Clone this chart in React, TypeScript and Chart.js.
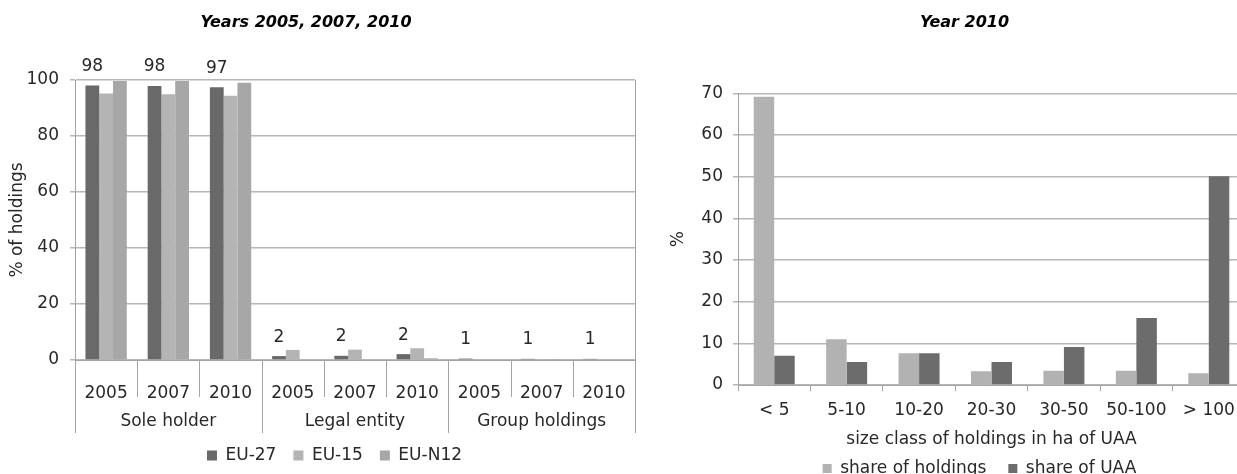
import React, { useEffect, useRef } from 'react';
import { Chart, registerables } from 'chart.js';

Chart.register(...registerables);

const FONT = '"DejaVu Sans", Verdana, sans-serif';
const TEXT = '#282828';
const GRID = '#b6b6b6';
const AXIS = '#a4a4a4';

// ---------- Left panel data ----------
const yearLabels = ['2005', '2007', '2010', '2005', '2007', '2010', '2005', '2007', '2010'];
const groupLabels = ['Sole holder', 'Legal entity', 'Group holdings'];
const eu27 = [98, 97.9, 97.4, 1.4, 1.5, 2.1, 0.5, 0.4, 0.4];
const eu15 = [95.2, 94.9, 94.4, 3.6, 3.7, 4.2, 0.2, 0.2, 0.2];
const euN12 = [99.6, 99.6, 99.0, 0.3, 0.3, 0.6, 0.3, 0.2, 0.3];
const eu27Labels = ['98', '98', '97', '2', '2', '2', '1', '1', '1'];
const leftTicks = [0, 20, 40, 60, 80, 100];

// ---------- Right panel data ----------
const sizeClasses = ['< 5', '5-10', '10-20', '20-30', '30-50', '50-100', '> 100'];
const shareHoldings = [69.2, 11.0, 7.6, 3.3, 3.4, 3.4, 2.8];
const shareUAA = [7.0, 5.5, 7.6, 5.5, 9.1, 16.1, 50.1];
const rightTicks = [0, 10, 20, 30, 40, 50, 60, 70];

const shiftBlocks = {
  id: 'shiftBlocks',
  afterLayout(chart: any, _args: any, opts: any) {
    if (chart.legend && opts.legendDx) {
      chart.legend.left += opts.legendDx;
      chart.legend.right += opts.legendDx;
    }
    if (chart.titleBlock && opts.titleDx) {
      chart.titleBlock.left += opts.titleDx;
      chart.titleBlock.right += opts.titleDx;
    }
  },
};

const leftDecor = {
  id: 'leftDecor',
  afterDraw(chart: any) {
    const { ctx, chartArea } = chart;
    const xs = chart.scales.x;
    const n = yearLabels.length;
    const w = xs.width / n;
    ctx.save();
    ctx.strokeStyle = AXIS;
    ctx.lineWidth = 1;
    ctx.beginPath();
    const rx = Math.round(xs.right) + 0.5;
    ctx.moveTo(rx, chartArea.top);
    ctx.lineTo(rx, chartArea.bottom);
    for (let i = 0; i <= n; i++) {
      const x = Math.round(xs.left + i * w) + 0.5;
      ctx.moveTo(x, chartArea.bottom);
      ctx.lineTo(x, chartArea.bottom + (i % 3 === 0 ? 73 : 37));
    }
    ctx.stroke();
    ctx.fillStyle = TEXT;
    ctx.font = `17px ${FONT}`;
    ctx.textAlign = 'center';
    ctx.textBaseline = 'middle';
    groupLabels.forEach((g, k) => {
      ctx.fillText(g, xs.left + (k * 3 + 1.5) * w, chartArea.bottom + 62);
    });
    ctx.restore();
  },
};

const eu27LabelPlugin = {
  id: 'eu27LabelPlugin',
  afterDatasetsDraw(chart: any) {
    const { ctx } = chart;
    const meta = chart.getDatasetMeta(0);
    ctx.save();
    ctx.fillStyle = TEXT;
    ctx.font = `17px ${FONT}`;
    ctx.textAlign = 'center';
    ctx.textBaseline = 'middle';
    meta.data.forEach((el: any, i: number) => {
      ctx.fillText(eu27Labels[i], el.x, el.y - 19);
    });
    ctx.restore();
  },
};

const tickFont = { family: FONT, size: 17 };
const titleFont = { family: FONT, size: 16, weight: 'bold' as const, style: 'italic' as const };

export default function App() {
  const leftRef = useRef<HTMLCanvasElement>(null);
  const rightRef = useRef<HTMLCanvasElement>(null);

  useEffect(() => {
    const left = new Chart(leftRef.current as HTMLCanvasElement, {
      type: 'bar',
      data: {
        labels: yearLabels,
        datasets: [
          { label: 'EU-27', data: eu27, backgroundColor: '#696969' },
          { label: 'EU-15', data: eu15, backgroundColor: '#b4b4b4' },
          { label: 'EU-N12', data: euN12, backgroundColor: '#a7a7a7' },
        ],
      },
      options: {
        responsive: false,
        animation: false,
        layout: { padding: { left: 0, right: 15, top: 0, bottom: 0 } },
        datasets: { bar: { categoryPercentage: 0.664, barPercentage: 1 } },
        plugins: {
          title: {
            display: true,
            text: 'Years 2005, 2007, 2010',
            color: '#000',
            font: titleFont,
            padding: { top: 13.4, bottom: 47.4 },
          },
          legend: {
            position: 'bottom',
            labels: { boxWidth: 10, boxHeight: 10, padding: 17, color: TEXT, font: tickFont },
          },
          tooltip: { enabled: false },
          shiftBlocks: { titleDx: -11.5, legendDx: 17 },
        } as any,
        scales: {
          x: {
            grid: { display: false },
            border: { display: true, color: AXIS },
            ticks: { color: TEXT, font: tickFont, padding: 15, maxRotation: 0, autoSkip: false },
            afterFit: (s: any) => { s.height = 70; },
          },
          y: {
            min: 0,
            max: 100,
            afterBuildTicks: (s: any) => { s.ticks = leftTicks.map((v) => ({ value: v })); },
            ticks: { color: TEXT, font: tickFont, padding: 11 },
            grid: { color: GRID, tickLength: 5, lineWidth: 1.5 },
            border: { color: AXIS },
            title: {
              display: true,
              text: '% of holdings',
              color: TEXT,
              font: tickFont,
              padding: { top: 7.8, bottom: 0 },
            },
            afterFit: (s: any) => { s.width = 75; },
          },
        },
      },
      plugins: [leftDecor, eu27LabelPlugin, shiftBlocks],
    });

    const right = new Chart(rightRef.current as HTMLCanvasElement, {
      type: 'bar',
      data: {
        labels: sizeClasses,
        datasets: [
          { label: 'share of holdings', data: shareHoldings, backgroundColor: '#b2b2b2' },
          { label: 'share of UAA', data: shareUAA, backgroundColor: '#6c6c6c' },
        ],
      },
      options: {
        responsive: false,
        animation: false,
        layout: { padding: 0 },
        datasets: { bar: { categoryPercentage: 0.566, barPercentage: 1 } },
        plugins: {
          title: {
            display: true,
            text: 'Year 2010',
            color: '#000',
            font: titleFont,
            padding: { top: 13.4, bottom: 60.7 },
          },
          legend: {
            position: 'bottom',
            labels: { boxWidth: 9, boxHeight: 9, padding: 22, color: TEXT, font: tickFont },
          },
          tooltip: { enabled: false },
          shiftBlocks: { titleDx: 17, legendDx: 32 },
        } as any,
        scales: {
          x: {
            grid: { drawOnChartArea: false, drawTicks: true, tickLength: 6, color: AXIS, offset: true },
            border: { display: true, color: AXIS },
            ticks: { color: TEXT, font: tickFont, padding: 9, maxRotation: 0, autoSkip: false },
            title: {
              display: true,
              text: 'size class of holdings in ha of UAA',
              color: TEXT,
              font: tickFont,
              padding: { top: 0, bottom: -11.5 },
            },
            afterFit: (s: any) => { s.height = 53; },
          },
          y: {
            min: 0,
            max: 70,
            afterBuildTicks: (s: any) => { s.ticks = rightTicks.map((v) => ({ value: v })); },
            ticks: { color: TEXT, font: tickFont, padding: 10 },
            grid: { color: GRID, tickLength: 5, lineWidth: 1.5 },
            border: { color: AXIS },
            title: {
              display: true,
              text: '%',
              color: TEXT,
              font: tickFont,
              padding: { top: 18.8, bottom: 0 },
            },
            afterFit: (s: any) => { s.width = 88; },
          },
        },
      },
      plugins: [shiftBlocks],
    });

    return () => {
      left.destroy();
      right.destroy();
    };
  }, []);

  return (
    <div
      style={{
        position: 'fixed',
        left: 0,
        top: 0,
        width: 1237,
        height: 474,
        overflow: 'hidden',
        background: '#ffffff',
      }}
    >
      <canvas
        ref={leftRef}
        width={650}
        height={474}
        style={{ position: 'absolute', left: 0, top: 0, width: 650, height: 474 }}
      />
      <canvas
        ref={rightRef}
        width={595}
        height={487}
        style={{ position: 'absolute', left: 650, top: 0, width: 595, height: 487 }}
      />
    </div>
  );
}
